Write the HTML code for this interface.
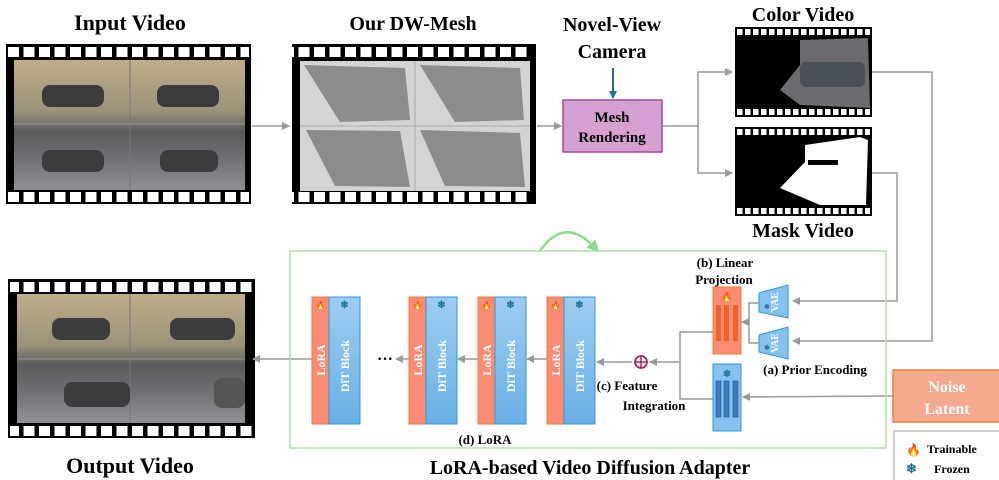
<!DOCTYPE html>
<html><head><meta charset="utf-8"><style>
html,body{margin:0;padding:0;background:#fff;}
svg{display:block;font-family:"Liberation Serif",serif;font-weight:bold;}
</style></head><body>
<svg width="999" height="480" viewBox="0 0 999 480" xmlns="http://www.w3.org/2000/svg">
<defs>
<pattern id="holes" x="8" y="0" width="15.5" height="20" patternUnits="userSpaceOnUse"><rect x="0" y="0" width="11" height="20" fill="#fff"/></pattern>
<pattern id="holesS" x="737" y="0" width="8" height="20" patternUnits="userSpaceOnUse"><rect x="0" y="0" width="5.5" height="20" fill="#fff"/></pattern>
<linearGradient id="street" x1="0" y1="0" x2="0" y2="1"><stop offset="0" stop-color="#c0ae88"/><stop offset="0.4" stop-color="#9a9278"/><stop offset="0.55" stop-color="#5a5a5c"/><stop offset="0.75" stop-color="#707074"/><stop offset="1" stop-color="#909094"/></linearGradient>
<linearGradient id="blueg" x1="0" y1="0" x2="0" y2="1"><stop offset="0" stop-color="#9dcdf0"/><stop offset="1" stop-color="#6ab0e6"/></linearGradient>
<marker id="ah" markerWidth="8" markerHeight="8" refX="7" refY="4" orient="auto" markerUnits="userSpaceOnUse"><path d="M0,0 L8,4 L0,8 z" fill="#999"/></marker>
<marker id="ahb" markerWidth="8" markerHeight="8" refX="7" refY="4" orient="auto" markerUnits="userSpaceOnUse"><path d="M0,0 L8,4 L0,8 z" fill="#1f6f99"/></marker>
<marker id="ahg" markerWidth="12" markerHeight="12" refX="6" refY="6" orient="auto" markerUnits="userSpaceOnUse"><path d="M0,0 L12,6 L0,12 z" fill="#8edc8e"/></marker>
</defs>

<!-- Titles -->
<text x="130" y="30" font-size="22" text-anchor="middle">Input Video</text>
<text x="413" y="30" font-size="20" text-anchor="middle">Our DW-Mesh</text>
<text x="612" y="31" font-size="20" text-anchor="middle">Novel-View</text>
<text x="612" y="58" font-size="20" text-anchor="middle">Camera</text>
<text x="803" y="21" font-size="20" text-anchor="middle">Color Video</text>
<text x="803" y="237" font-size="20" text-anchor="middle">Mask Video</text>
<text x="130" y="473" font-size="22" text-anchor="middle">Output Video</text>
<text x="590" y="474" font-size="20" text-anchor="middle">LoRA-based Video Diffusion Adapter</text>

<!-- Input film -->
<rect x="6" y="44" width="245" height="160" fill="#000"/>
<rect x="8" y="47" width="241" height="10" fill="url(#holes)"/>
<rect x="8" y="192" width="241" height="10" fill="url(#holes)"/>
<rect x="14" y="60" width="231" height="130" fill="url(#street)"/>
<line x1="130" y1="60" x2="130" y2="190" stroke="#777"/>
<line x1="14" y1="124" x2="245" y2="124" stroke="#999"/>
<rect x="42" y="85" width="62" height="22" rx="8" fill="#3c3c3e"/><rect x="157" y="85" width="62" height="22" rx="8" fill="#3c3c3e"/>
<rect x="42" y="150" width="62" height="22" rx="8" fill="#3c3c3e"/><rect x="160" y="150" width="58" height="22" rx="8" fill="#3c3c3e"/>

<!-- Mesh film -->
<rect x="292" y="44" width="244" height="160" fill="#000"/>
<rect x="294" y="47" width="240" height="10" fill="url(#holes)" transform="translate(-4,0)"/>
<rect x="294" y="192" width="240" height="10" fill="url(#holes)" transform="translate(-4,0)"/>
<rect x="300" y="61" width="230" height="130" fill="#d4d4d4"/>
<line x1="415" y1="61" x2="415" y2="191" stroke="#aaa"/><line x1="300" y1="126" x2="530" y2="126" stroke="#aaa"/>
<polygon points="304,65 405,68 410,120 340,122" fill="#8c8c8c"/>
<polygon points="420,65 520,68 524,120 455,122" fill="#8c8c8c"/>
<polygon points="306,130 400,131 410,187 335,186" fill="#8c8c8c"/>
<polygon points="420,130 520,133 525,187 445,186" fill="#8c8c8c"/>

<!-- Color film -->
<rect x="735" y="27" width="137" height="90" fill="#000"/>
<rect x="737" y="29" width="133" height="6" fill="url(#holesS)"/>
<rect x="737" y="109" width="133" height="6" fill="url(#holesS)"/>
<polygon points="780,90 800,65 800,40 868,38 870,108 800,105" fill="#6c6c70"/>
<rect x="800" y="62" width="65" height="25" rx="6" fill="#4a5058"/>
<!-- Mask film -->
<rect x="735" y="127" width="137" height="89" fill="#000"/>
<rect x="737" y="129" width="133" height="6" fill="url(#holesS)"/>
<rect x="737" y="208" width="133" height="6" fill="url(#holesS)"/>
<polygon points="780,188 805,162 805,145 860,137 868,140 866,205 820,205" fill="#fff"/>
<rect x="808" y="160" width="30" height="5" fill="#000"/>

<!-- Output film -->
<rect x="8" y="279" width="247" height="159" fill="#000"/>
<rect x="10" y="282" width="243" height="10" fill="url(#holes)"/>
<rect x="10" y="426" width="243" height="10" fill="url(#holes)"/>
<rect x="17" y="294" width="228" height="129" fill="url(#street)"/>
<line x1="130" y1="294" x2="130" y2="423" stroke="#777"/><line x1="17" y1="359" x2="245" y2="359" stroke="#999"/>
<rect x="52" y="318" width="58" height="22" rx="8" fill="#3c3c3e"/><rect x="170" y="318" width="65" height="22" rx="8" fill="#3c3c3e"/>
<rect x="64" y="382" width="66" height="25" rx="8" fill="#3c3c3e"/><rect x="214" y="378" width="31" height="30" rx="8" fill="#555"/>

<!-- Connectors -->
<g stroke="#999" stroke-width="1.5" fill="none">
<line x1="252" y1="126" x2="289" y2="126" marker-end="url(#ah)"/>
<line x1="537" y1="126" x2="561" y2="126" marker-end="url(#ah)"/>
<polyline points="662,126 698,126 698,72 732,72" marker-end="url(#ah)"/>
<polyline points="698,126 698,173 732,173" marker-end="url(#ah)"/>
<polyline points="872,72 932,72 932,341 793,341" marker-end="url(#ah)"/>
<polyline points="872,173 897,173 897,301 793,301" marker-end="url(#ah)"/>
<line x1="893" y1="396" x2="743" y2="397" marker-end="url(#ah)"/>
<polyline points="713,332 680,332 680,399 713,399"/>
<polyline points="759,303 749,303 749,343 759,343"/>
<line x1="749" y1="322" x2="742" y2="322" marker-end="url(#ah)"/>
<line x1="680" y1="362" x2="650" y2="362" marker-end="url(#ah)"/>
<line x1="632" y1="362" x2="597" y2="362" marker-end="url(#ah)"/>
<line x1="547" y1="359" x2="527" y2="359" marker-end="url(#ah)"/>
<line x1="478" y1="359" x2="458" y2="359" marker-end="url(#ah)"/>
<line x1="409" y1="359" x2="396" y2="359" marker-end="url(#ah)"/>
<line x1="312" y1="359" x2="253" y2="359" marker-end="url(#ah)"/>
</g>
<line x1="613" y1="68" x2="613" y2="98" stroke="#1f6f99" stroke-width="2" marker-end="url(#ahb)"/>

<!-- Mesh Rendering -->
<rect x="563" y="100" width="99" height="52" fill="#d6a0d2" stroke="#a14aa0" stroke-width="1.5"/>
<text x="612" y="122" font-size="15" text-anchor="middle">Mesh</text>
<text x="612" y="142" font-size="15" text-anchor="middle">Rendering</text>

<!-- Green box -->
<rect x="290" y="251" width="596" height="197" fill="none" stroke="#b5dfa8" stroke-width="1.5"/>
<path d="M540,251 Q565,215 595,248" fill="none" stroke="#8edc8e" stroke-width="2.5" marker-end="url(#ahg)"/>

<text x="725" y="267" font-size="13" text-anchor="middle">(b) Linear</text>
<text x="724" y="284" font-size="13" text-anchor="middle">Projection</text>
<text x="815" y="374" font-size="13" text-anchor="middle">(a) Prior Encoding</text>
<text x="627" y="390" font-size="13" text-anchor="middle">(c) Feature</text>
<text x="654" y="410" font-size="13" text-anchor="middle">Integration</text>
<text x="485" y="444" font-size="13" text-anchor="middle">(d) LoRA</text>
<text x="385" y="364" font-size="16" text-anchor="middle">···</text>

<!-- Projection boxes -->
<rect x="713" y="287" width="28" height="67" fill="#fb8c73" stroke="#ef7d3b"/>
<rect x="716" y="305" width="5" height="36" fill="#f0622d"/><rect x="724" y="305" width="5" height="36" fill="#f0622d"/><rect x="733" y="305" width="5" height="36" fill="#f0622d"/>
<text x="727" y="300" font-size="9" text-anchor="middle" fill="#f03a10">🔥</text>
<rect x="713" y="364" width="28" height="67" fill="#85c2ef" stroke="#2a9bd8"/>
<rect x="716" y="381" width="5" height="36" fill="#3b7ec0" stroke="#265f99" stroke-width="0.7"/><rect x="724" y="381" width="5" height="36" fill="#3b7ec0" stroke="#265f99" stroke-width="0.7"/><rect x="733" y="381" width="5" height="36" fill="#3b7ec0" stroke="#265f99" stroke-width="0.7"/>
<text x="727" y="377" font-size="10" text-anchor="middle" fill="#1f6f99">❄</text>

<!-- VAEs -->
<polygon points="759,293 788,285 788,318 759,312" fill="#85c2ef" stroke="#2a9bd8"/>
<polygon points="759,335 788,327 788,359 759,352" fill="#85c2ef" stroke="#2a9bd8"/>
<text transform="translate(778,302) rotate(-90)" font-size="10" text-anchor="middle" fill="#fff">VAE</text>
<text transform="translate(778,343) rotate(-90)" font-size="10" text-anchor="middle" fill="#fff">VAE</text>
<text x="764" y="309" font-size="7" fill="#1f6f99">❄</text><text x="764" y="350" font-size="7" fill="#1f6f99">❄</text>

<!-- Oplus -->
<circle cx="641" cy="362" r="6" fill="none" stroke="#a0245f" stroke-width="1.8"/>
<line x1="635" y1="362" x2="647" y2="362" stroke="#a0245f" stroke-width="1.5"/><line x1="641" y1="356" x2="641" y2="368" stroke="#a0245f" stroke-width="1.5"/>

<!-- DiT blocks -->
<g id="blk">
<rect x="312" y="297" width="17" height="127" fill="#fb8c73" stroke="#ef7d3b"/>
<rect x="329" y="297" width="31" height="127" fill="url(#blueg)" stroke="#2a9bd8"/>
<text x="320.5" y="308" font-size="8" text-anchor="middle" fill="#f03a10">🔥</text>
<text x="344.5" y="308" font-size="10" text-anchor="middle" fill="#1f6f99">❄</text>
<text transform="translate(325,360) rotate(-90)" font-size="12" text-anchor="middle" fill="#fff">LoRA</text>
<text transform="translate(349,366) rotate(-90)" font-size="12" text-anchor="middle" fill="#fff">DiT Block</text>
</g>
<use href="#blk" x="97"/><use href="#blk" x="166"/><use href="#blk" x="235"/>

<!-- Noise latent -->
<rect x="893" y="370" width="110" height="52" fill="#f4a98f" stroke="#ef7d3b" stroke-width="1.5"/>
<text x="947" y="392" font-size="16" text-anchor="middle" fill="#fff">Noise</text>
<text x="947" y="414" font-size="16" text-anchor="middle" fill="#fff">Latent</text>

<!-- Legend -->
<rect x="894" y="431" width="110" height="55" fill="none" stroke="#bbb" stroke-width="1.5"/>
<text x="906" y="454" font-size="12" fill="#f03a10">🔥</text>
<text x="927" y="453" font-size="12">Trainable</text>
<text x="906" y="473" font-size="13" fill="#1f6f99">❄</text>
<text x="934" y="473" font-size="12">Frozen</text>
</svg>
</body></html>
